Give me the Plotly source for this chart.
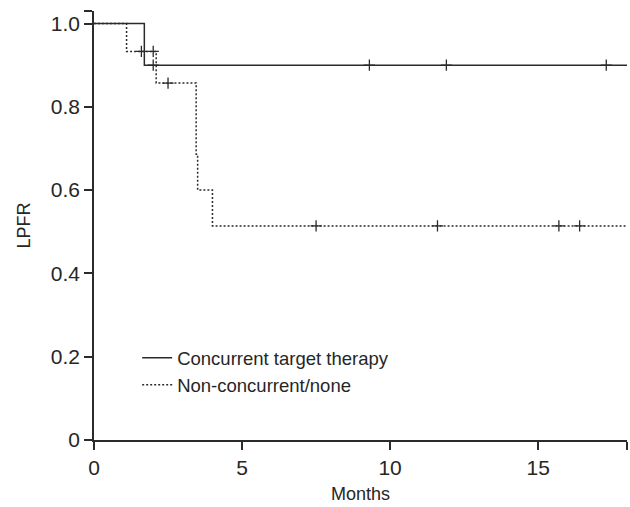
import plotly.graph_objects as go

# Step data (Kaplan-Meier)
conc_times = [0, 1.7, 18]
conc_surv = [1.0, 0.9, 0.9]
conc_censor = [2.0, 9.3, 11.9, 17.3]

non_times = [0, 1.1, 2.1, 3.45, 3.5, 4.0, 18]
non_surv = [1.0, 0.933, 0.857, 0.686, 0.6, 0.514, 0.514]
non_censor = [1.6, 2.0, 2.5, 7.5, 11.6, 15.7, 16.4]

x_ticks = [0, 5, 10, 15, 18]
x_ticklabels = ["0", "5", "10", "15", ""]
y_ticks = [0, 0.2, 0.4, 0.6, 0.8, 1.0, 1.03]
y_ticklabels = ["0", "0.2", "0.4", "0.6", "0.8", "1.0", ""]


def surv_at(times, surv, t):
    v = surv[0]
    for ti, si in zip(times, surv):
        if ti <= t:
            v = si
    return v


LINE = "#2b2b2b"
TXT = "#262626"
FONT = "Liberation Sans, Arial, sans-serif"

fig = go.Figure()
fig.add_trace(go.Scatter(
    x=conc_times, y=conc_surv, mode="lines", line_shape="hv",
    line=dict(color=LINE, width=1.5), name="Concurrent target therapy"))
fig.add_trace(go.Scatter(
    x=non_times, y=non_surv, mode="lines", line_shape="hv",
    line=dict(color=LINE, width=1.5, dash="2px,2px"), name="Non-concurrent/none"))
fig.add_trace(go.Scatter(
    x=conc_censor, y=[surv_at(conc_times, conc_surv, t) for t in conc_censor],
    mode="markers", marker=dict(symbol="cross-thin", size=8, line=dict(color=LINE, width=1.3)),
    showlegend=False))
fig.add_trace(go.Scatter(
    x=non_censor, y=[surv_at(non_times, non_surv, t) for t in non_censor],
    mode="markers", marker=dict(symbol="cross-thin", size=8, line=dict(color=LINE, width=1.3)),
    showlegend=False))

axis_common = dict(
    showgrid=False, zeroline=False, showline=True, linecolor=LINE, linewidth=1.5,
    ticks="outside", ticklen=8, tickcolor=LINE, tickwidth=1.5,
    tickfont=dict(family=FONT, size=21, color=TXT), automargin=False,
)

fig.update_layout(
    width=630, height=507,
    margin=dict(l=94, r=3, t=11, b=67),
    paper_bgcolor="white", plot_bgcolor="white",
    font=dict(family=FONT, size=17, color=TXT),
    xaxis=dict(range=[0, 18], tickvals=x_ticks, ticktext=x_ticklabels,
               title=dict(text="Months", font=dict(family=FONT, size=18, color=TXT), standoff=9),
               **axis_common),
    yaxis=dict(range=[0, 1.03], tickvals=y_ticks, ticktext=y_ticklabels,
               title=dict(text="LPFR", font=dict(family=FONT, size=18, color=TXT), standoff=16),
               **axis_common),
    legend=dict(x=0.081, y=0.235, xanchor="left", yanchor="top",
                bgcolor="rgba(0,0,0,0)", font=dict(family=FONT, size=18.5, color=TXT),
                itemwidth=30),
    showlegend=True,
)

fig.write_html("out.html", config={"displayModeBar": False},
               post_script="document.body.style.margin='0';")
